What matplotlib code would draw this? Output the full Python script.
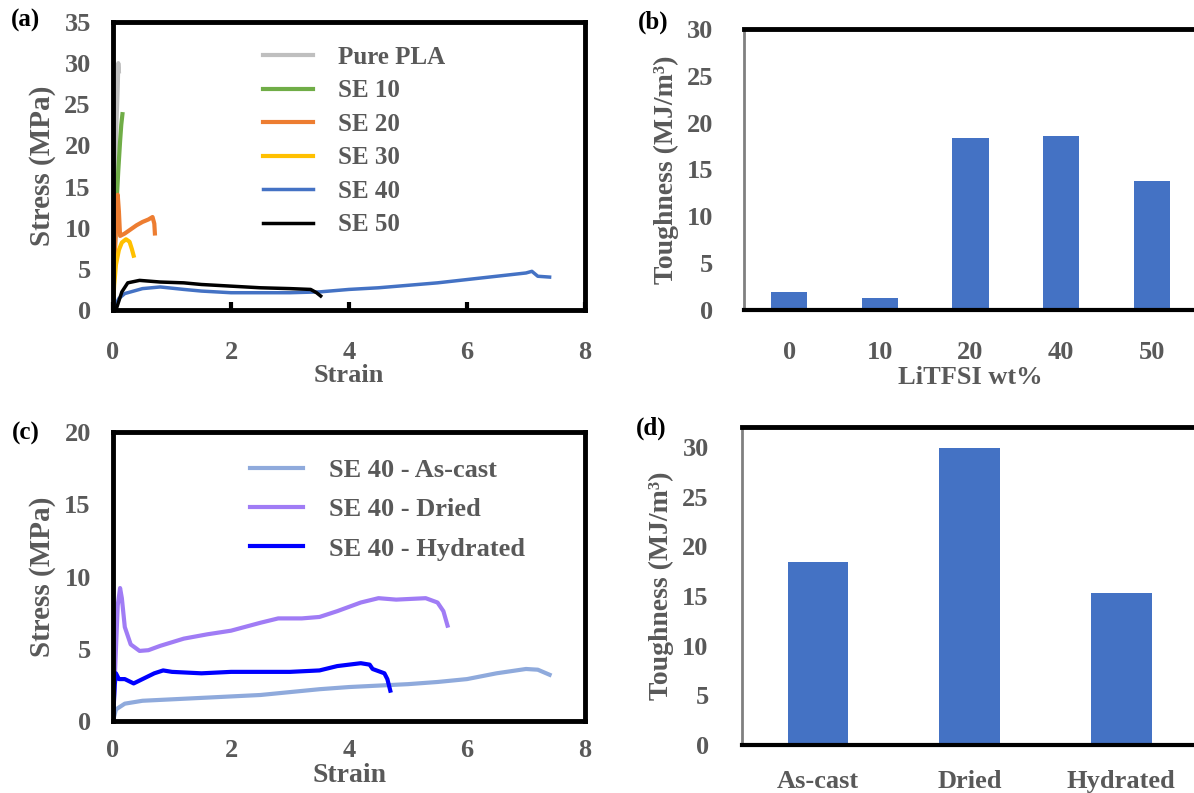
import matplotlib
matplotlib.use('Agg')
import matplotlib.pyplot as plt

plt.rcParams['font.family'] = ['Liberation Serif', 'DejaVu Serif']
plt.rcParams['font.weight'] = 'bold'
plt.rcParams['axes.labelweight'] = 'bold'

TXT = '#595959'

# ---- panel (a): stress-strain for different LiTFSI loadings
pla_x = [0, 0.02, 0.04, 0.06, 0.08, 0.09, 0.1]
pla_y = [0, 9, 17, 23, 27, 30, 29]
se10_x = [0, 0.03, 0.06, 0.09, 0.12, 0.14, 0.16]
se10_y = [0, 7, 13, 17, 20.5, 22.5, 23.8]
se20_x = [0, 0.02, 0.05, 0.08, 0.1, 0.12, 0.2, 0.3, 0.4, 0.5, 0.6, 0.67, 0.7, 0.71]
se20_y = [0, 5, 10, 14, 12, 9, 9.3, 9.8, 10.3, 10.7, 11.0, 11.3, 10.5, 9.3]
se30_x = [0, 0.02, 0.05, 0.1, 0.15, 0.22, 0.28, 0.32, 0.35]
se30_y = [0, 3, 5.5, 7.3, 8.2, 8.6, 8.3, 7.4, 6.6]
se40_x = [0, 0.1, 0.2, 0.5, 0.8, 1.2, 1.5, 2, 2.5, 3, 3.5, 4, 4.5, 5, 5.5, 6, 6.5, 7, 7.1, 7.2, 7.4]
se40_y = [0, 1.4, 2.0, 2.6, 2.8, 2.5, 2.3, 2.1, 2.1, 2.1, 2.2, 2.5, 2.7, 3.0, 3.3, 3.7, 4.1, 4.5, 4.7, 4.1, 4.0]
se50_x = [0.05, 0.15, 0.25, 0.45, 0.8, 1.2, 1.5, 2, 2.5, 3, 3.35, 3.45, 3.52]
se50_y = [0, 2.2, 3.3, 3.6, 3.4, 3.3, 3.1, 2.9, 2.7, 2.6, 2.5, 2.1, 1.7]

# ---- panel (b): toughness vs LiTFSI wt%
wt_labels = ['0', '10', '20', '40', '50']
tough_wt = [1.9, 1.3, 18.4, 18.6, 13.8]

# ---- panel (c): SE 40 under different conditions
cast_x = [0, 0.05, 0.2, 0.5, 1, 1.5, 2, 2.5, 3, 3.5, 4, 4.5, 5, 5.5, 6, 6.5, 7, 7.2, 7.4]
cast_y = [0, 0.8, 1.2, 1.4, 1.5, 1.6, 1.7, 1.8, 2.0, 2.2, 2.35, 2.45, 2.55, 2.7, 2.9, 3.3, 3.6, 3.55, 3.2]
dried_x = [0, 0.05, 0.08, 0.12, 0.15, 0.2, 0.3, 0.45, 0.6, 0.8, 1.2, 1.6, 2, 2.5, 2.8, 3.2, 3.5,
           3.8, 4.2, 4.5, 4.8, 5.3, 5.5, 5.6, 5.67]
dried_y = [0, 5, 8, 9.2, 8.5, 6.5, 5.3, 4.85, 4.9, 5.2, 5.7, 6.0, 6.25, 6.8, 7.1, 7.1, 7.2,
           7.6, 8.2, 8.5, 8.4, 8.5, 8.2, 7.6, 6.6]
hyd_x = [0, 0.03, 0.05, 0.1, 0.2, 0.35, 0.5, 0.7, 0.85, 1, 1.5, 2, 2.5, 3, 3.5, 3.8, 4.2, 4.35,
         4.4, 4.6, 4.65, 4.7]
hyd_y = [0, 2.5, 3.3, 2.9, 2.9, 2.6, 2.9, 3.3, 3.5, 3.4, 3.3, 3.4, 3.4, 3.4, 3.5, 3.8, 4.0, 3.9,
         3.6, 3.3, 2.9, 2.1]

# ---- panel (d): toughness for each condition
cond_labels = ['As-cast', 'Dried', 'Hydrated']
tough_cond = [18.4, 29.9, 15.3]

W, H = 1194, 793
fig = plt.figure(figsize=(W / 100, H / 100), dpi=100)


def box(l, b, r, t):
    return fig.add_axes([l / W, 1 - b / H, (r - l) / W, (b - t) / H])


def curve_axes(ax, ymax, ystep, xlab_size):
    ax.set_xlim(0, 8)
    ax.set_ylim(0, ymax)
    ax.set_xticks(range(0, 9, 2))
    ax.set_yticks(range(0, ymax + 1, ystep))
    for s in ax.spines.values():
        s.set_linewidth(3.5)
        s.set_color('black')
    ax.tick_params(axis='x', direction='in', length=6, width=3, pad=20,
                   labelsize=19, labelcolor=TXT)
    ax.tick_params(axis='y', length=0, pad=16, labelsize=19, labelcolor=TXT)
    ax.set_ylabel('Stress (MPa)', fontsize=21, color=TXT, labelpad=6)
    ax.set_xlabel('Strain', fontsize=xlab_size, color=TXT, labelpad=0)


def bar_axes(ax, ymax):
    ax.set_ylim(0, ymax)
    ax.spines['top'].set_linewidth(3.5)
    ax.spines['bottom'].set_linewidth(3)
    ax.spines['left'].set_color('#808080')
    ax.spines['left'].set_linewidth(2)
    ax.spines['right'].set_color('#a0a0a0')
    ax.spines['right'].set_linewidth(1)
    ax.tick_params(length=0, labelsize=19, labelcolor=TXT)
    ax.set_ylabel('Toughness (MJ/m³)', fontsize=20, color=TXT, labelpad=6)


# (a)
ax = box(113, 310, 585, 22)
ax.plot(pla_x, pla_y, color='#BFBFBF', lw=3, label='Pure PLA')
ax.plot(se10_x, se10_y, color='#70AD47', lw=3, label='SE 10')
ax.plot(se20_x, se20_y, color='#ED7D31', lw=3, label='SE 20')
ax.plot(se30_x, se30_y, color='#FFC000', lw=3, label='SE 30')
ax.plot(se40_x, se40_y, color='#4472C4', lw=2.5, label='SE 40')
ax.plot(se50_x, se50_y, color='black', lw=2.5, label='SE 50')
curve_axes(ax, 35, 5, 19)
ax.tick_params(axis='x', pad=22)
ax.legend(loc='upper left', bbox_to_anchor=(0.27, 0.995), frameon=False,
          fontsize=18, handlelength=2.0, handletextpad=1.0, labelspacing=0.42,
          labelcolor=TXT)
fig.text(26 / W, 1 - 20 / H, '(a)', fontsize=18, ha='center', va='center')

# (b)
ax = box(744, 310, 1197, 29)
ax.bar(range(len(wt_labels)), tough_wt, width=0.4, color='#4472C4')
ax.set_xticks(range(len(wt_labels)))
ax.set_xticklabels(wt_labels)
ax.set_xlim(-0.5, 4.5)
bar_axes(ax, 30)
ax.set_yticks(range(0, 31, 5))
ax.tick_params(axis='y', pad=22)
ax.tick_params(axis='x', pad=22)
ax.set_xlabel('LiTFSI wt%', fontsize=19, color=TXT, labelpad=2)
fig.text(653 / W, 1 - 22 / H, '(b)', fontsize=18, ha='center', va='center')

# (c)
ax = box(113, 721, 585, 432)
ax.plot(cast_x, cast_y, color='#8FAADC', lw=3, label='SE 40 - As-cast')
ax.plot(dried_x, dried_y, color='#A07CF5', lw=3, label='SE 40 - Dried')
ax.plot(hyd_x, hyd_y, color='#0000FF', lw=3, label='SE 40 - Hydrated')
curve_axes(ax, 20, 5, 20)
ax.tick_params(axis='x', length=0, pad=13)
ax.xaxis.labelpad = 1
ax.legend(loc='upper left', bbox_to_anchor=(0.24, 0.99), frameon=False,
          fontsize=19, handlelength=2.0, handletextpad=1.0, labelspacing=0.6,
          labelcolor=TXT)
fig.text(26 / W, 1 - 433 / H, '(c)', fontsize=18, ha='center', va='center')

# (d)
ax = box(742, 745, 1197, 427)
ax.bar(range(len(cond_labels)), tough_cond, width=0.4, color='#4472C4')
ax.set_xticks(range(len(cond_labels)))
ax.set_xticklabels(cond_labels)
ax.set_xlim(-0.5, 2.5)
bar_axes(ax, 32)
ax.set_yticks(range(0, 31, 5))
ax.tick_params(axis='y', pad=24)
ax.tick_params(axis='x', pad=18)
fig.text(651 / W, 1 - 428 / H, '(d)', fontsize=18, ha='center', va='center')

fig.savefig('out.png', dpi=100)
